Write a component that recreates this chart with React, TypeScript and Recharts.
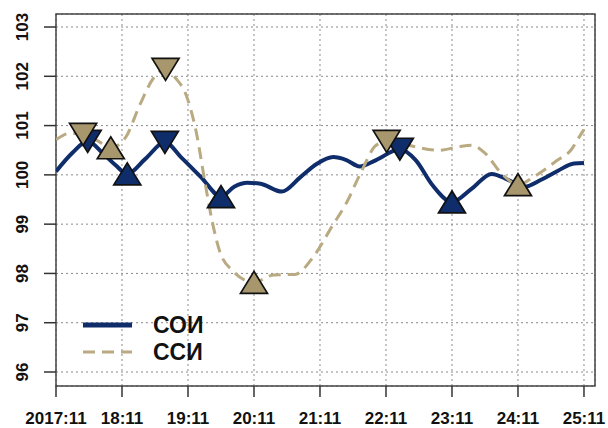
import React from 'react';
import {
  ComposedChart,
  Line,
  XAxis,
  YAxis,
  CartesianGrid,
  ReferenceArea
} from 'recharts';

// x is in months counted from 2017:11 (0) to 25:11 (8)
const xTicks = [0, 1, 2, 3, 4, 5, 6, 7, 8];
const xLabels = ['2017:11', '18:11', '19:11', '20:11', '21:11', '22:11', '23:11', '24:11', '25:11'];
const yTicks = [96, 97, 98, 99, 100, 101, 102, 103];

const soiX = [0, 0.25, 0.48, 0.7, 0.9, 1.08, 1.35, 1.65, 1.9, 2.2, 2.5, 2.7, 2.9, 3.1, 3.42, 3.7, 3.95, 4.2, 4.4, 4.6, 4.85, 5.21, 5.45, 5.7, 6.0, 6.3, 6.6, 6.85, 7.1, 7.35, 7.6, 7.85, 8.0];
const soiY = [100.07, 100.45, 100.68, 100.45, 100.2, 100.02, 100.32, 100.66, 100.35, 99.95, 99.56, 99.76, 99.84, 99.82, 99.66, 99.95, 100.22, 100.36, 100.3, 100.17, 100.3, 100.52, 100.3, 99.8, 99.45, 99.72, 100.02, 99.9, 99.76, 99.9, 100.08, 100.23, 100.24];

const ssiX = [0, 0.2, 0.41, 0.62, 0.83, 1.05, 1.27, 1.47, 1.66, 1.82, 1.96, 2.12, 2.26, 2.36, 2.48, 2.68, 3.0, 3.3, 3.62, 3.9, 4.18, 4.4, 4.62, 4.85, 5.01, 5.3, 5.8, 6.1, 6.3, 6.5, 6.75, 7.0, 7.25, 7.6, 7.8, 7.92, 8.0];
const ssiY = [100.71, 100.84, 100.82, 100.7, 100.55, 100.75, 101.42, 101.95, 102.14, 101.95, 101.66, 100.9, 99.83, 99.1, 98.45, 98.05, 97.82, 97.97, 97.98, 98.34, 98.95, 99.43, 100.05, 100.6, 100.68, 100.61, 100.5, 100.57, 100.6, 100.44, 100.03, 99.8, 99.97, 100.3, 100.5, 100.75, 100.92];

// turning points: peaks get a down triangle, troughs an up triangle
const soiPeaksX = [0.48, 1.65, 5.21];
const soiPeaksY = [100.68, 100.66, 100.52];
const soiTroughsX = [1.08, 2.5, 6.0];
const soiTroughsY = [100.02, 99.56, 99.45];
const ssiPeaksX = [0.41, 1.66, 5.01];
const ssiPeaksY = [100.82, 102.14, 100.68];
const ssiTroughsX = [0.83, 3.0, 7.0];
const ssiTroughsY = [100.55, 97.82, 99.8];

const toRows = (xs: number[], ys: number[]) => xs.map((x, i) => ({ x, y: ys[i] }));

const NAVY = '#0f2d6b';
const TAN = '#b9aa82';
const TAN_FILL = '#a8976c';
const X_MAX = 8.167;
const Y_MIN = 95.716;
const Y_MAX = 103.264;
const FONT = "'Liberation Sans', Arial, sans-serif";

const triangle = (down: boolean, fill: string) => (props: any) => {
  const { cx, cy, index } = props;
  if (cx == null || cy == null) return <g key={index} />;
  const w = 13.5;
  const h = 11;
  const pts = down
    ? `${cx - w},${cy - h} ${cx + w},${cy - h} ${cx},${cy + h}`
    : `${cx - w},${cy + h} ${cx + w},${cy + h} ${cx},${cy - h}`;
  return <polygon key={index} points={pts} fill={fill} stroke="#111" strokeWidth={1.7} />;
};

const XTick = ({ x, payload }: any) => (
  <text x={x} y={424} textAnchor="middle" fontSize={17} fontWeight="bold" fill="#111" fontFamily={FONT}>
    {xLabels[xTicks.indexOf(payload.value)]}
  </text>
);

const YTick = ({ y, payload }: any) => (
  <text x={28} y={y} transform={`rotate(-90 28 ${y})`} textAnchor="middle" fontSize={17} fontWeight="bold"
    fill="#111" fontFamily={FONT}>
    {payload.value}
  </text>
);

const LegendBox = () => (
  <svg width={140} height={60} style={{ position: 'absolute', left: 80, top: 310 }}>
    <line x1={3} y1={15} x2={52} y2={15} stroke={NAVY} strokeWidth={5} />
    <line x1={3} y1={42} x2={52} y2={42} stroke={TAN} strokeWidth={3} strokeDasharray="12 7" />
    <text x={73} y={23} fontSize={23} fontWeight="bold" fill="#111" fontFamily={FONT}>СОИ</text>
    <text x={73} y={50} fontSize={23} fontWeight="bold" fill="#111" fontFamily={FONT}>ССИ</text>
  </svg>
);

export default function App() {
  return (
    <div style={{ position: 'absolute', left: 0, top: 0, width: 608, height: 428, background: '#fff' }}>
      <ComposedChart width={608} height={428} margin={{ top: 14, right: 13, bottom: 0, left: 0 }}>
        <CartesianGrid stroke="#8a8a8a" strokeDasharray="2 3" strokeWidth={1} />
        <XAxis
          dataKey="x"
          type="number"
          domain={[0, X_MAX]}
          ticks={xTicks}
          allowDataOverflow
          height={42}
          tick={<XTick />}
          tickSize={11}
          tickLine={{ stroke: '#333', strokeWidth: 1.5 }}
          axisLine={false}
          interval={0}
        />
        <YAxis
          type="number"
          domain={[Y_MIN, Y_MAX]}
          ticks={yTicks}
          allowDataOverflow
          width={56}
          tick={<YTick />}
          tickSize={12}
          tickLine={{ stroke: '#333', strokeWidth: 1.5 }}
          axisLine={false}
          interval={0}
        />
        <ReferenceArea x1={0} x2={X_MAX} y1={Y_MIN} y2={Y_MAX} fill="none" stroke="#444" strokeWidth={1.5} ifOverflow="visible" />
        <Line data={toRows(soiX, soiY)} dataKey="y" type="monotone" stroke={NAVY} strokeWidth={4}
          dot={false} activeDot={false} isAnimationActive={false} legendType="none" />
        <Line data={toRows(ssiX, ssiY)} dataKey="y" type="monotone" stroke={TAN} strokeWidth={3}
          strokeDasharray="12 7" dot={false} activeDot={false} isAnimationActive={false} legendType="none" />
        <Line data={toRows(soiPeaksX, soiPeaksY)} dataKey="y" stroke="none" dot={triangle(true, NAVY)}
          activeDot={false} isAnimationActive={false} legendType="none" />
        <Line data={toRows(soiTroughsX, soiTroughsY)} dataKey="y" stroke="none" dot={triangle(false, NAVY)}
          activeDot={false} isAnimationActive={false} legendType="none" />
        <Line data={toRows(ssiPeaksX, ssiPeaksY)} dataKey="y" stroke="none" dot={triangle(true, TAN_FILL)}
          activeDot={false} isAnimationActive={false} legendType="none" />
        <Line data={toRows(ssiTroughsX, ssiTroughsY)} dataKey="y" stroke="none" dot={triangle(false, TAN_FILL)}
          activeDot={false} isAnimationActive={false} legendType="none" />
      </ComposedChart>
      <LegendBox />
    </div>
  );
}
